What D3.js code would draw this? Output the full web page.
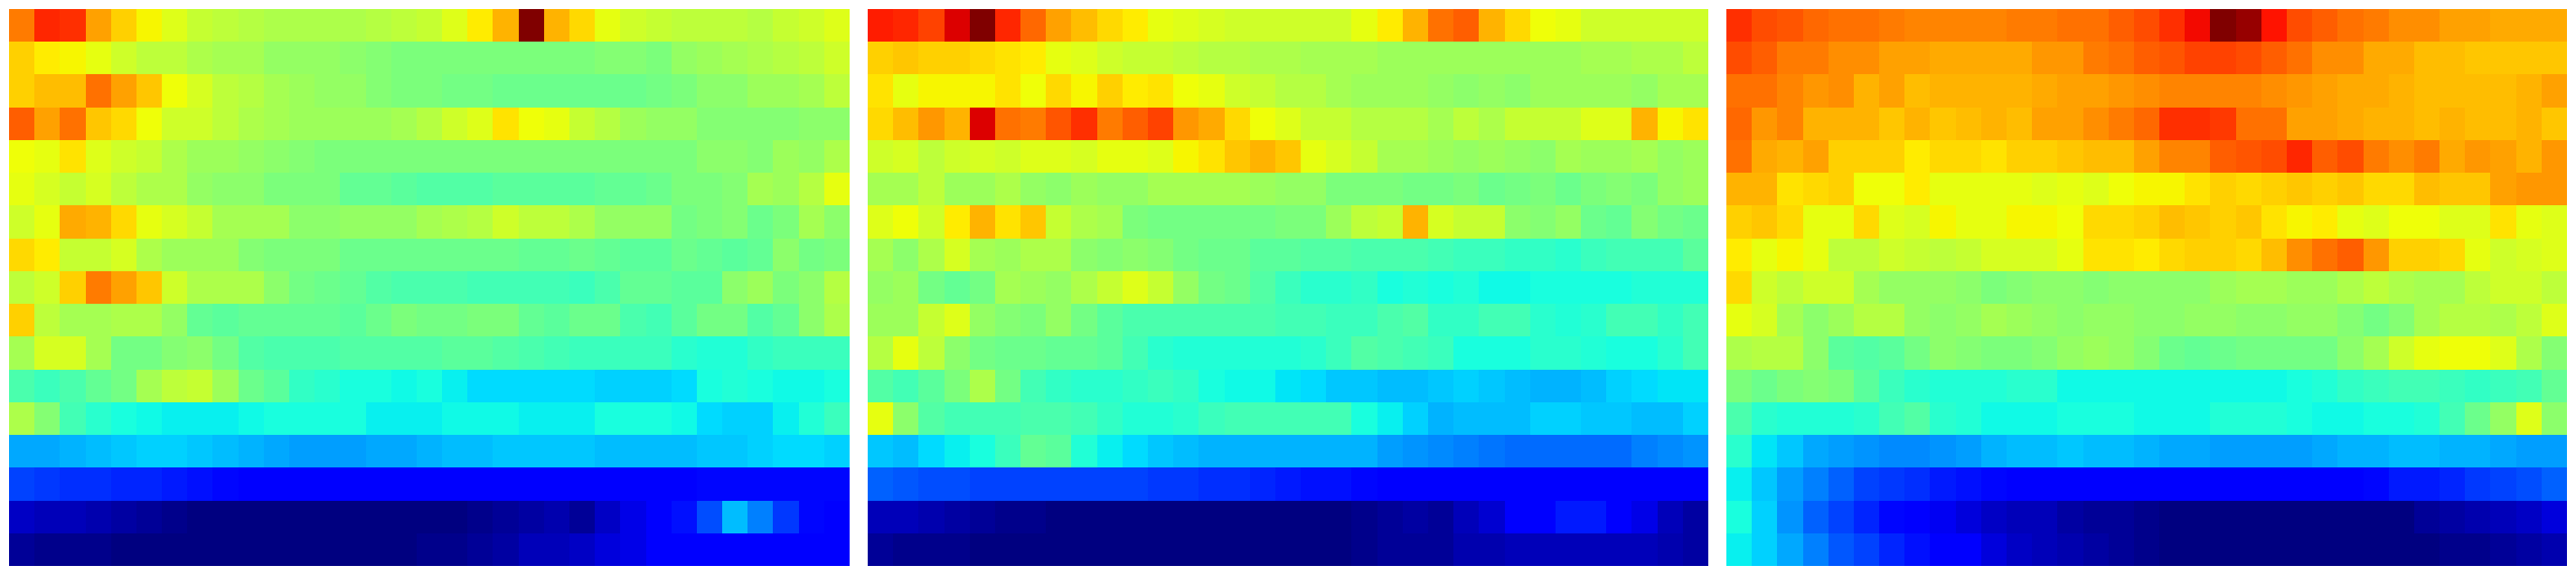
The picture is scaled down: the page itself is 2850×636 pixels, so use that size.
<!DOCTYPE html>
<html><head><meta charset="utf-8">
<script src="https://cdn.jsdelivr.net/npm/d3@7"></script>
<style>html,body{margin:0;padding:0;background:#fff;overflow:hidden}svg{display:block}</style>
</head><body><svg id="c" width="2850" height="636"></svg>
<script>
// Values are positions on the jet colour range, in hundredths (0 to 100). One string per row, 33 columns.
const panelA = [
"78 87 86 74 69 65 62 59 58 57 56 56 56 56 57 58 59 62 66 72 100 72 68 63 60 59 58 58 58 57 59 60 62",
"69 66 65 63 60 58 58 56 55 55 53 53 53 52 51 50 50 50 50 50 50 50 50 51 51 50 53 54 55 56 57 58 60",
"69 71 71 79 74 70 64 61 58 57 55 54 53 53 51 50 50 49 49 48 48 48 48 48 48 49 50 52 52 54 54 55 58",
"81 74 79 70 68 64 60 60 58 56 55 54 54 54 54 55 57 60 62 67 64 63 59 57 54 53 53 51 51 51 51 52 52",
"64 63 67 62 60 59 56 54 54 53 52 51 50 50 50 50 50 50 50 50 50 50 50 50 50 50 50 52 52 51 54 53 56",
"63 61 59 61 58 56 56 53 52 52 50 50 50 47 47 46 45 45 45 46 46 46 46 47 47 48 50 50 51 55 54 57 63",
"60 63 73 72 68 63 61 59 55 55 55 52 52 53 53 53 55 56 57 60 58 58 56 53 53 53 49 50 51 48 50 55 52",
"68 66 59 59 61 56 54 54 54 51 50 50 50 48 48 48 48 48 48 48 47 47 48 47 46 46 48 47 46 47 52 49 50",
"58 60 69 78 74 70 60 56 56 56 52 49 48 47 45 44 44 44 43 43 43 43 42 44 47 47 46 46 52 54 50 52 57",
"69 58 55 55 56 56 53 47 46 47 47 47 47 46 48 50 49 49 50 50 47 46 48 48 44 43 46 49 49 45 47 52 56",
"55 61 61 55 49 49 51 52 49 45 44 44 44 45 45 45 45 46 46 45 44 43 42 42 42 42 40 39 39 41 42 42 42",
"44 42 44 47 49 55 58 59 54 48 46 41 40 38 38 37 38 36 34 34 34 34 34 33 33 33 34 38 39 38 37 37 38",
"56 51 43 40 38 37 36 36 36 37 38 38 38 38 36 36 36 37 37 37 36 36 36 38 38 38 37 34 33 33 36 39 42",
"29 29 30 31 32 33 33 32 31 30 29 28 28 28 29 29 30 31 31 32 32 32 32 31 31 31 31 32 32 33 34 34 33",
"19 18 17 17 16 16 15 14 13 12 11 11 11 11 11 11 11 11 11 11 11 11 11 11 11 11 12 13 13 13 13 13 13",
"6 5 5 4 3 2 1 0 0 0 0 0 0 0 0 0 0 0 1 2 3 4 2 6 9 11 14 20 31 25 18 13 11",
"2 1 1 1 0 0 0 0 0 0 0 0 0 0 0 0 1 1 2 3 5 5 6 8 9 11 11 11 11 11 11 11 11"
];
const panelB = [
"88 87 84 92 100 87 80 74 71 68 66 63 62 61 60 60 60 60 60 63 66 72 79 81 72 68 64 63 60 60 60 60 60",
"69 70 69 69 68 67 66 63 62 60 59 59 58 57 57 56 56 55 55 55 54 54 54 54 54 54 54 54 55 55 56 56 58",
"67 63 65 65 65 67 64 68 65 69 66 67 64 63 60 59 57 57 55 54 54 54 53 52 53 52 54 54 54 54 53 55 55",
"68 71 75 72 92 79 78 82 86 78 81 84 75 73 68 64 62 59 59 57 57 57 55 58 56 59 59 59 62 62 72 65 67",
"60 61 58 60 61 60 62 62 61 63 63 62 65 67 70 72 70 63 61 59 55 55 54 53 54 53 52 55 54 54 55 53 54",
"55 55 58 54 54 56 53 52 54 53 53 55 55 55 55 54 53 53 50 50 50 49 49 50 48 49 50 48 50 51 50 53 54",
"62 64 60 66 72 67 70 59 56 55 50 49 49 49 49 49 50 50 54 58 59 72 61 59 59 52 51 53 48 47 51 49 48",
"55 52 56 61 55 54 56 56 52 51 52 51 49 48 48 46 46 45 45 44 44 44 43 42 42 41 41 40 42 43 43 43 46",
"53 54 49 47 49 55 54 53 56 59 62 59 53 49 48 45 42 40 40 41 38 39 38 39 37 37 38 38 38 38 39 39 39",
"54 54 59 62 53 51 50 53 49 46 44 44 44 44 44 44 43 43 42 42 44 45 41 41 43 43 40 39 40 43 43 41 43",
"57 63 58 52 49 48 48 47 47 46 43 40 39 39 39 39 39 40 42 45 44 43 42 38 38 38 40 40 39 38 38 40 43",
"45 43 46 50 56 49 43 41 40 40 41 42 41 38 37 37 35 34 32 32 31 31 32 33 32 31 30 30 31 33 34 35 35",
"63 52 45 43 43 43 44 44 43 41 39 39 40 42 43 43 43 43 43 38 36 33 30 31 31 31 33 33 32 32 31 31 33",
"32 31 34 36 38 42 47 46 39 36 34 32 31 30 30 30 30 30 30 30 28 27 26 25 24 23 23 23 23 23 25 26 27",
"22 21 20 20 19 19 19 19 19 19 19 18 18 17 17 16 15 14 14 13 11 11 11 11 11 11 11 11 11 11 11 11 11",
"5 5 4 3 2 1 1 0 0 0 0 0 0 0 0 0 0 0 0 1 2 3 2 5 7 11 12 15 15 11 9 5 3",
"2 1 1 1 0 0 0 0 0 0 0 0 0 0 0 0 0 0 0 1 2 2 2 4 4 5 5 5 5 5 5 4 3"
];
const panelC = [
"86 83 82 80 79 79 78 77 77 77 77 78 78 79 79 81 83 86 90 100 98 89 83 81 79 78 76 76 74 74 73 73 73",
"83 81 78 78 76 76 74 74 73 73 73 73 75 75 78 79 81 82 84 84 83 81 79 76 76 73 73 71 71 70 70 70 70",
"79 79 77 75 76 72 74 71 72 72 72 72 73 74 74 75 76 77 77 77 77 76 75 74 73 73 72 71 71 71 71 72 74",
"80 75 77 72 72 72 70 72 70 71 72 71 74 74 76 78 80 86 86 85 79 79 74 74 73 72 72 71 72 71 71 72 70",
"79 73 72 74 69 69 69 66 68 68 67 69 69 70 71 71 74 77 77 81 82 83 87 81 83 78 76 78 73 75 74 72 75",
"72 72 67 68 69 64 64 66 63 63 63 63 62 63 62 64 65 65 67 69 68 69 70 69 70 68 68 71 70 70 74 75 75",
"69 70 68 63 63 68 62 61 65 63 63 65 65 64 68 68 69 71 70 69 70 67 65 66 63 62 64 64 62 62 67 63 62",
"66 63 65 63 58 58 60 59 58 59 61 61 61 63 67 67 66 68 69 69 68 71 76 79 81 75 69 69 68 63 60 61 62",
"68 60 58 60 60 55 53 53 53 52 50 51 52 52 51 52 52 52 52 54 55 55 54 54 56 58 56 55 55 58 60 60 58",
"63 61 55 52 54 57 57 53 52 53 55 54 53 52 53 53 52 52 53 53 52 52 53 53 51 49 51 55 57 57 56 58 62",
"56 57 57 52 46 45 46 49 52 51 50 50 51 53 54 53 51 48 47 48 49 49 49 49 52 55 60 63 64 64 62 56 51",
"50 48 50 51 50 46 42 40 39 39 39 40 40 37 37 37 37 37 37 37 37 37 38 39 41 42 43 43 42 41 42 43 47",
"44 40 39 39 39 40 43 45 40 39 37 37 37 38 38 38 37 37 37 39 39 39 38 37 37 38 38 39 43 48 53 62 52",
"40 35 32 29 28 27 26 26 27 28 30 31 31 32 31 31 30 29 29 28 28 28 28 29 30 30 31 31 30 30 29 28 28",
"36 32 28 25 22 19 18 17 15 14 13 11 11 11 11 11 11 11 11 11 11 11 11 11 11 13 15 15 16 18 19 20 22",
"38 33 27 22 19 16 13 11 10 8 6 5 5 3 2 2 1 0 0 0 0 0 0 0 0 0 0 2 3 4 5 6 8",
"36 33 29 25 21 19 16 14 11 11 8 6 5 4 3 2 1 0 0 0 0 0 0 0 0 0 0 0 1 1 2 3 4"
];
const panels = [panelA, panelB, panelC];
const panelNames = ["a", "b", "c"];

const width = 2850, height = 636;
const marginLeft = 10, marginTop = 10, panelWidth = 930, panelHeight = 616, panelGap = 20;

const rows = d3.range(panelA.length);
const cols = d3.range(33);

const rCh = d3.scaleLinear().domain([0, .35, .66, .89, 1]).range([0, 0, 1, 1, .5]);
const gCh = d3.scaleLinear().domain([0, .125, .375, .64, .91, 1]).range([0, 0, 1, 1, 0, 0]);
const bCh = d3.scaleLinear().domain([0, .11, .34, .65, 1]).range([.5, 1, 1, 0, 0]);
const jet = v => { const t = v / 100; return d3.rgb(rCh(t) * 255, gCh(t) * 255, bCh(t) * 255).formatHex(); };

const px = d3.scaleBand().domain(panelNames).range([marginLeft, marginLeft + 3 * panelWidth + 2 * panelGap]).paddingInner(panelGap / (panelWidth + panelGap));
const x = d3.scaleLinear().domain([0, cols.length]).range([0, panelWidth]);
const y = d3.scaleLinear().domain([0, rows.length]).range([marginTop, marginTop + panelHeight]);

const svg = d3.select("#c");
panelNames.forEach((name, p) => {
  const x0 = Math.round(px(name));
  const values = panels[p].map(s => s.trim().split(/\s+/).map(Number));
  const g = svg.append("g").attr("transform", `translate(${x0},0)`).attr("shape-rendering", "crispEdges");
  const cells = [];
  values.forEach((row, i) => row.forEach((v, j) => cells.push({ i, j, v })));
  g.selectAll("rect").data(cells).join("rect")
    .attr("x", d => Math.round(x(d.j)))
    .attr("y", d => Math.round(y(d.i)))
    .attr("width", d => Math.round(x(d.j + 1)) - Math.round(x(d.j)))
    .attr("height", d => Math.round(y(d.i + 1)) - Math.round(y(d.i)))
    .attr("fill", d => jet(d.v));
});
</script></body></html>
